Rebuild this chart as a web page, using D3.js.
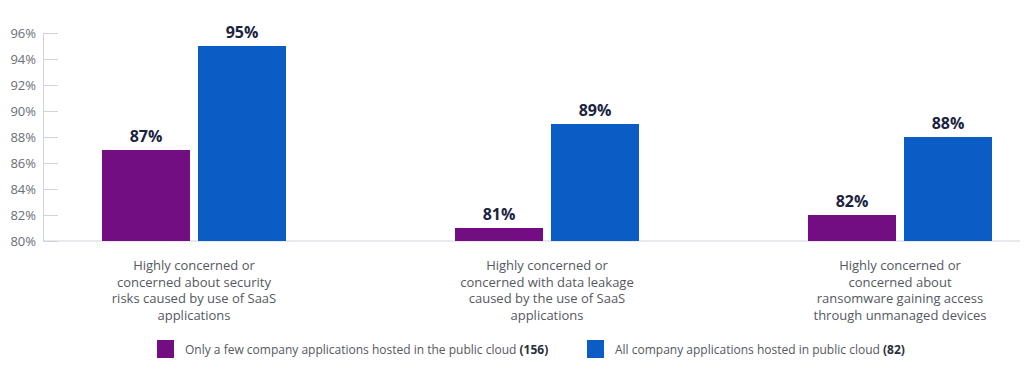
<!DOCTYPE html>
<html>
<head>
<meta charset="utf-8">
<script src="https://cdn.jsdelivr.net/npm/d3@7"></script>
<style>
  body { margin: 0; background: #fff; }
  svg { display: block; font-family: 'Open Sans', sans-serif; }
</style>
</head>
<body>
<script>
const categories = [
  ['Highly concerned or', 'concerned about security', 'risks caused by use of SaaS', 'applications'],
  ['Highly concerned or', 'concerned with data leakage', 'caused by the use of SaaS', 'applications'],
  ['Highly concerned or', 'concerned about', 'ransomware gaining access', 'through unmanaged devices']
];
const seriesNames = ['Only a few company applications hosted in the public cloud', 'All company applications hosted in public cloud'];
const seriesCounts = ['(156)', '(82)'];
const fewValues = [87, 81, 82];
const allValues = [95, 89, 88];
const yTicks = [80, 82, 84, 86, 88, 90, 92, 94, 96];

const width = 1024, height = 373;
const colors = ['#720e82', '#0b5cc5'];

const svg = d3.select('body')
  .append('svg')
  .attr('width', width)
  .attr('height', height);

const x0 = d3.scaleBand()
  .domain(d3.range(categories.length))
  .range([17.5, 1076.5])
  .paddingInner(0);

const x1 = d3.scaleBand()
  .domain([0, 1])
  .range([84.5, 268.5])
  .paddingInner(8 / 96);

const y = d3.scaleLinear()
  .domain([80, 96])
  .range([241, 33]);

// y axis
const yAxis = svg.append('g')
  .attr('transform', 'translate(43, 0)')
  .call(d3.axisRight(y).tickValues(yTicks).tickSize(15).tickFormat(d => d + '%'));
yAxis.select('.domain').attr('stroke', '#d0d3d9');
yAxis.selectAll('.tick line').attr('stroke', '#d0d3d9');
yAxis.selectAll('.tick text')
  .attr('x', -7)
  .attr('text-anchor', 'end')
  .attr('fill', '#6b6e76')
  .attr('font-size', 13)
  .attr('font-family', "'Open Sans', sans-serif");

// baseline
svg.append('line')
  .attr('x1', 43).attr('x2', 1020)
  .attr('y1', y(80)).attr('y2', y(80))
  .attr('stroke', '#d0d3d9');

const rows = categories.map((c, i) => ({ i, vals: [fewValues[i], allValues[i]] }));

const groups = svg.selectAll('g.grp')
  .data(rows)
  .enter()
  .append('g')
  .attr('class', 'grp')
  .attr('transform', d => `translate(${x0(d.i)}, 0)`);

groups.selectAll('rect')
  .data(d => d.vals.map((v, k) => ({ v, k })))
  .enter()
  .append('rect')
  .attr('x', d => x1(d.k))
  .attr('width', x1.bandwidth())
  .attr('y', d => y(d.v))
  .attr('height', d => y(80) - y(d.v))
  .attr('fill', d => colors[d.k]);

groups.selectAll('text.val')
  .data(d => d.vals.map((v, k) => ({ v, k })))
  .enter()
  .append('text')
  .attr('class', 'val')
  .attr('x', d => x1(d.k) + x1.bandwidth() / 2)
  .attr('y', d => y(d.v) - 8)
  .attr('text-anchor', 'middle')
  .attr('font-size', 16)
  .attr('font-weight', 700)
  .attr('fill', '#1c2340')
  .text(d => d.v + '%');

// category labels
groups.append('text')
  .attr('text-anchor', 'middle')
  .attr('font-size', 13)
  .attr('fill', '#55585f')
  .selectAll('tspan')
  .data(d => categories[d.i])
  .enter()
  .append('tspan')
  .attr('x', x0.bandwidth() / 2)
  .attr('y', (d, i) => 270 + i * 16.7)
  .text(d => d);

// legend
const legendX = [157, 587];
const legend = svg.selectAll('g.leg')
  .data(seriesNames)
  .enter()
  .append('g')
  .attr('class', 'leg')
  .attr('transform', (d, i) => `translate(${legendX[i]}, 340)`);

legend.append('rect')
  .attr('width', 17)
  .attr('height', 18)
  .attr('fill', (d, i) => colors[i]);

const lt = legend.append('text')
  .attr('x', 28)
  .attr('y', 13.5)
  .attr('font-size', 12)
  .attr('fill', '#55585f');
lt.append('tspan').text(d => d + ' ');
lt.append('tspan')
  .attr('font-weight', 700)
  .attr('fill', '#2a2e3a')
  .text((d, i) => seriesCounts[i]);
</script>
</body>
</html>
